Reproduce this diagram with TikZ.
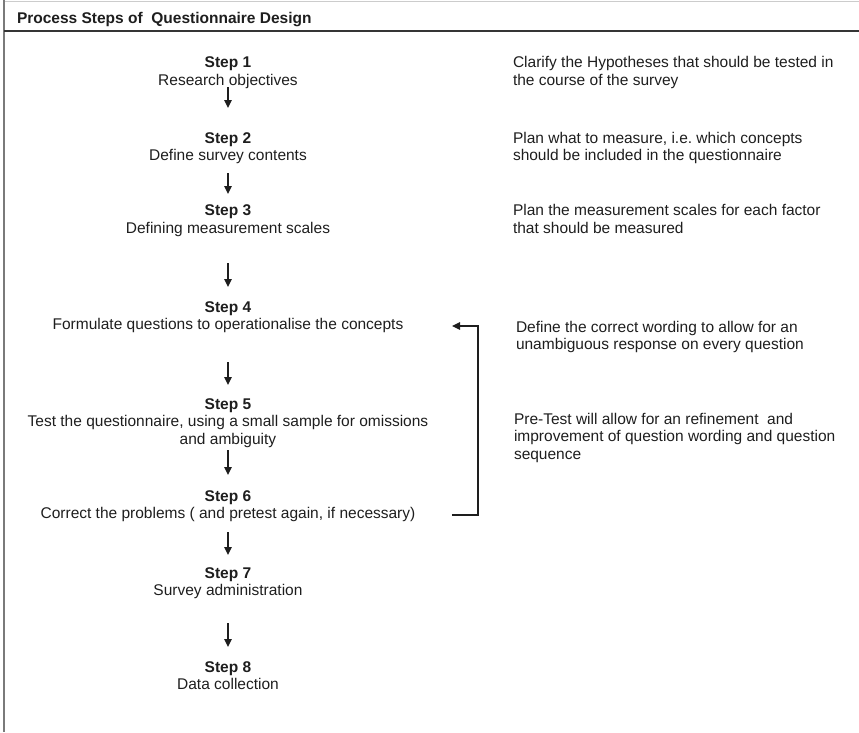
\documentclass[tikz,border=0pt]{standalone}
\usepackage{fontspec}
\setmainfont{Liberation Sans}
\usetikzlibrary{arrows.meta,positioning}
\definecolor{ink}{HTML}{1E1E1E}
\definecolor{rule}{HTML}{7A7A7A}
\definecolor{toprule}{HTML}{CCCCCC}
\begin{document}
\begin{tikzpicture}[x=1pt,y=-1pt,
  every node/.style={inner sep=0pt,outer sep=0pt,text=ink,
    font=\fontsize{15.5}{17.5}\selectfont\frenchspacing},
  steplabel/.style={anchor=north,align=center,font=\fontsize{15.5}{17.5}\selectfont\bfseries},
  stepdesc/.style={below=0pt of #1,align=center},
  note/.style={anchor=north west,align=left},
  flow/.style 2 args={draw=ink,line width=1.3pt,
    -{Triangle[length=8pt,width=7.5pt]},shorten <=#1,shorten >=#2},
  loopline/.style={draw=ink,line width=1.2pt,
    -{Triangle[length=8pt,width=7.5pt]}}]
\useasboundingbox (0,0) rectangle (859,732);

% frame and title bar
\draw[toprule,line width=1pt] (4,1) -- (859,1);
\draw[rule,line width=1.5pt] (4,0) -- (4,732);
\draw[ink!90,line width=1.7pt] (4,31) -- (859,31);
\node[anchor=base west,font=\fontsize{15.5}{17.5}\selectfont\bfseries] (title) at (17,23)
  {Process Steps of~ Questionnaire Design};

% process steps
\node[steplabel] (l1) at (228,55.25) {\strut Step 1};
\node[stepdesc=l1] (d1) {\strut Research objectives};
\node[steplabel] (l2) at (228,130.75) {\strut Step 2};
\node[stepdesc=l2] (d2) {\strut Define survey contents};
\node[steplabel] (l3) at (228,203.25) {\strut Step 3};
\node[stepdesc=l3] (d3) {\strut Defining measurement scales};
\node[steplabel] (l4) at (228,299.75) {\strut Step 4};
\node[stepdesc=l4] (d4) {\strut Formulate questions to operationalise the concepts};
\node[steplabel] (l5) at (228,396.75) {\strut Step 5};
\node[stepdesc=l5] (d5) {\strut Test the questionnaire, using a small sample for omissions\\\strut and ambiguity};
\node[steplabel] (l6) at (228,488.75) {\strut Step 6};
\node[stepdesc=l6] (d6) {\strut Correct the problems ( and pretest again, if necessary)};
\node[steplabel] (l7) at (228,565.75) {\strut Step 7};
\node[stepdesc=l7] (d7) {\strut Survey administration};
\node[steplabel] (l8) at (228,659.75) {\strut Step 8};
\node[stepdesc=l8] (d8) {\strut Data collection};

% explanations
\node[note] (n1) at (513,55.25) {\strut Clarify the Hypotheses that should be tested in\\\strut the course of the survey};
\node[note] (n2) at (513,130.75) {\strut Plan what to measure, i.e. which concepts\\\strut should be included in the questionnaire};
\node[note] (n3) at (513,203.25) {\strut Plan the measurement scales for each factor\\\strut that should be measured};
\node[note] (n4) at (516,319.75) {\strut Define the correct wording to allow for an\\\strut unambiguous response on every question};
\node[note] (n5) at (514,411.75) {\strut Pre-Test will allow for an refinement~ and\\\strut improvement of question wording and question\\\strut sequence};

% flow arrows
\draw[flow={-3.25pt}{22.75pt}] (d1.south) -- (l2.north);
\draw[flow={7.25pt}{9.25pt}]   (d2.south) -- (l3.north);
\draw[flow={24.75pt}{12.75pt}] (d3.south) -- (l4.north);
\draw[flow={27.25pt}{11.75pt}] (d4.south) -- (l5.north);
\draw[flow={0.75pt}{13.75pt}]  (d5.south) -- (l6.north);
\draw[flow={8.25pt}{10.75pt}]  (d6.south) -- (l7.north);
\draw[flow={22.25pt}{12.75pt}] (d7.south) -- (l8.north);

% feedback loop from step 6 back to step 4
\coordinate (loopx) at (478,0);
\draw[loopline,shorten <=36.6pt,shorten >=48.7pt]
  (d6.east) -- (d6.east -| loopx) |- (d4.east);
\end{tikzpicture}
\end{document}
